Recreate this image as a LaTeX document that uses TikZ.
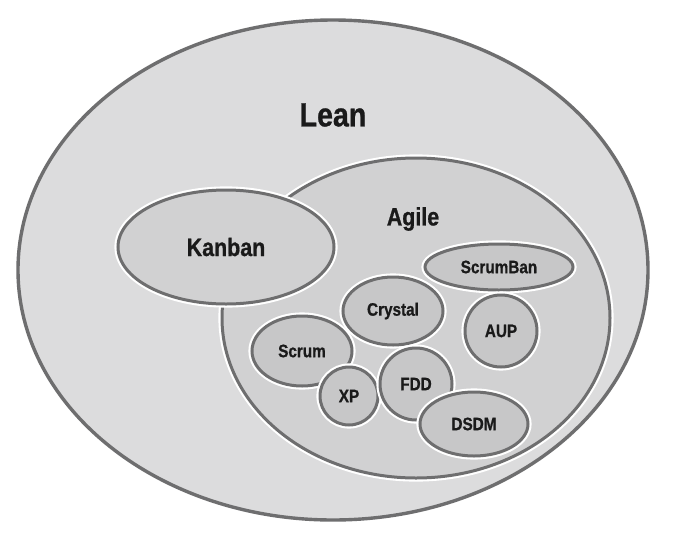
\documentclass[tikz,border=0pt]{standalone}
\usepackage{fontspec}
\setmainfont[FakeStretch=0.85, BoldFeatures={FakeBold=0.8}]{Liberation Sans}
\usepackage{tikz}
\usetikzlibrary{shapes,shapes.geometric}
\definecolor{leanfill}{HTML}{DCDCDD}
\definecolor{agilefill}{HTML}{D1D1D2}
\definecolor{methodfill}{HTML}{C7C7C8}
\definecolor{rim}{HTML}{6E6E6F}
\definecolor{ink}{HTML}{1A1A1A}
\tikzstyle{method} = [ellipse, draw=rim, line width=1.5pt, inner sep=0pt,
   preaction={draw=white, line width=3.6pt}, fill=methodfill,
   text=ink, font=\fontsize{9}{10}\selectfont\bfseries]
\tikzstyle{title} = [text=ink, inner sep=0pt]

\begin{document}
\begin{tikzpicture}[x=0.5pt, y=-0.5pt]
\useasboundingbox (0,0) rectangle (675,542);

% outer set
\node (lean) [method, fill=leanfill, line width=1.7pt, minimum width=315pt, minimum height=250pt] at (333,270) {};
\node (leantxt) [title, font=\fontsize{16.8}{18}\selectfont\bfseries] at (333,115) {Lean};

% agile and kanban
\node (agile) [method, fill=agilefill, minimum width=194pt, minimum height=160pt] at (416,318) {};
\node (agiletxt) [title, font=\fontsize{12.6}{14}\selectfont\bfseries] at (413,219) {Agile};

\node (kanban) [method, fill=agilefill, minimum width=108pt, minimum height=57pt,
   font=\fontsize{12.6}{14}\selectfont\bfseries] at (226,247) {Kanban};

% agile methods
\node (scrumban) [method, minimum width=74pt, minimum height=23pt] at (499,267) {ScrumBan};
\node (crystal) [method, minimum width=50pt, minimum height=34pt] at (393,311) {Crystal};
\node (aup) [method, minimum width=36pt, minimum height=36pt] at (501,331) {AUP};
\node (scrum) [method, minimum width=50pt, minimum height=35pt] at (302,351) {Scrum};
\node (xp) [method, minimum width=29pt, minimum height=29pt] at (349,396) {XP};
\node (fdd) [method, minimum width=36pt, minimum height=36pt] at (416,384) {FDD};
\node (dsdm) [method, minimum width=54pt, minimum height=32pt] at (474,424) {DSDM};

\end{tikzpicture}
\end{document}
